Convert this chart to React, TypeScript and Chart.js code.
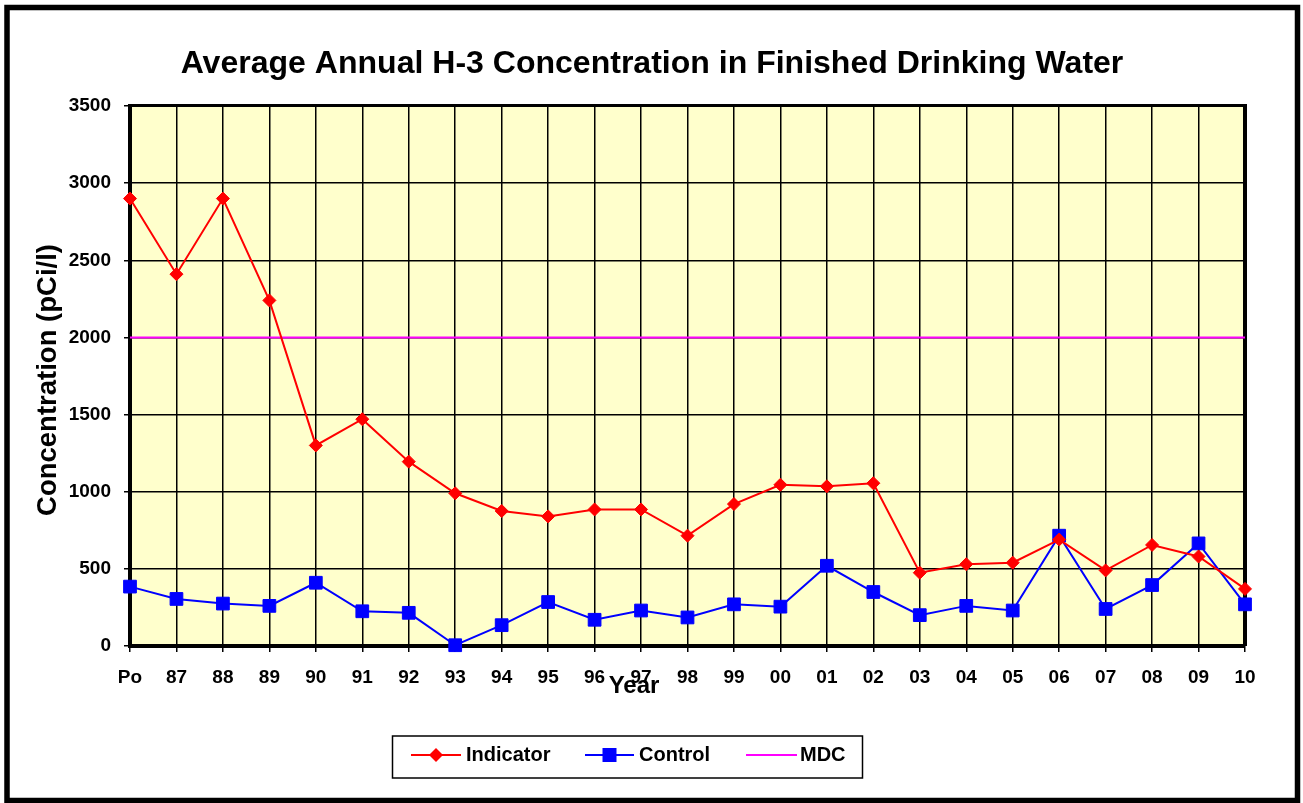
import React, { useEffect, useRef } from "react";
import { Chart, registerables } from "chart.js";

Chart.register(...registerables);

const FONT = '"Liberation Sans", Arial, sans-serif';

const TITLE = "Average Annual H-3 Concentration in Finished Drinking Water";
const Y_TITLE = "Concentration (pCi/l)";
const X_TITLE = "Year";

const years = [
  "Po", "87", "88", "89", "90", "91", "92", "93", "94", "95", "96", "97",
  "98", "99", "00", "01", "02", "03", "04", "05", "06", "07", "08", "09", "10",
];

const indicator = [
  2900, 2410, 2900, 2240, 1300, 1470, 1195, 990, 875, 840, 885, 885,
  715, 920, 1045, 1035, 1055, 475, 530, 540, 690, 490, 655, 580, 370,
];

const control = [
  385, 305, 275, 260, 410, 225, 215, 5, 135, 285, 170, 230,
  185, 270, 255, 520, 350, 200, 260, 230, 715, 240, 395, 665, 270,
];

const mdc = [
  2000, 2000, 2000, 2000, 2000, 2000, 2000, 2000, 2000, 2000, 2000, 2000,
  2000, 2000, 2000, 2000, 2000, 2000, 2000, 2000, 2000, 2000, 2000, 2000, 2000,
];

const Y_MIN = 0;
const Y_MAX = 3500;
const Y_STEP = 500;

function fitFont(ctx: CanvasRenderingContext2D, text: string, width: number, base: number) {
  ctx.font = `bold ${base}px ${FONT}`;
  const w = ctx.measureText(text).width;
  return base * (width / w);
}

const decorPlugin = {
  id: "decor",
  beforeDraw(chart: any) {
    const { ctx, chartArea } = chart;
    ctx.save();
    ctx.fillStyle = "#ffffff";
    ctx.fillRect(0, 0, chart.width, chart.height);
    ctx.fillStyle = "#FFFFCC";
    ctx.fillRect(chartArea.left, chartArea.top, chartArea.right - chartArea.left, chartArea.bottom - chartArea.top);
    ctx.restore();
  },
  beforeDatasetsDraw(chart: any) {
    const { ctx, chartArea } = chart;
    ctx.save();
    ctx.strokeStyle = "#000";
    ctx.lineWidth = 3;
    ctx.beginPath();
    ctx.moveTo(chartArea.left, chartArea.top - 0.5);
    ctx.lineTo(chartArea.right + 2, chartArea.top - 0.5);
    ctx.stroke();
    ctx.lineWidth = 4;
    ctx.beginPath();
    ctx.moveTo(chartArea.right, chartArea.top - 2);
    ctx.lineTo(chartArea.right, chartArea.bottom);
    ctx.stroke();
    ctx.restore();
  },
  afterDraw(chart: any) {
    const { ctx } = chart;
    ctx.save();
    // outer frame
    ctx.strokeStyle = "#000";
    ctx.lineWidth = 5.5;
    ctx.strokeRect(7, 7.5, 1290.5, 793);

    ctx.fillStyle = "#000";
    ctx.textAlign = "center";
    ctx.textBaseline = "alphabetic";

    // title
    const ts = fitFont(ctx, TITLE, 943, 28);
    ctx.font = `bold ${ts}px ${FONT}`;
    ctx.fillText(TITLE, 652, 73);

    // y title
    const ys = fitFont(ctx, Y_TITLE, 272, 23);
    ctx.font = `bold ${ys}px ${FONT}`;
    ctx.save();
    ctx.translate(56, 380);
    ctx.rotate(-Math.PI / 2);
    ctx.fillText(Y_TITLE, 0, 0);
    ctx.restore();

    // x title
    ctx.font = `bold 24px ${FONT}`;
    ctx.fillText(X_TITLE, 634, 693);

    // legend
    ctx.lineWidth = 1.5;
    ctx.strokeRect(392.5, 736, 470, 42);
    const ly = 755;
    const items = [
      { ds: 0, x1: 411, x2: 461, tx: 466 },
      { ds: 1, x1: 585, x2: 634, tx: 639 },
      { ds: 2, x1: 746, x2: 797, tx: 800 },
    ];
    ctx.textAlign = "left";
    ctx.textBaseline = "middle";
    ctx.font = `bold 20px ${FONT}`;
    for (const it of items) {
      const ds = chart.data.datasets[it.ds];
      ctx.strokeStyle = ds.borderColor;
      ctx.lineWidth = 2;
      ctx.beginPath();
      ctx.moveTo(it.x1, ly);
      ctx.lineTo(it.x2, ly);
      ctx.stroke();
      if (ds.pointRadius > 0) {
        ctx.fillStyle = ds.pointBackgroundColor;
        ctx.beginPath();
        const cx = (it.x1 + it.x2) / 2;
        if (ds.pointStyle === "rectRot") {
          const r = 7;
          ctx.moveTo(cx, ly - r);
          ctx.lineTo(cx + r, ly);
          ctx.lineTo(cx, ly + r);
          ctx.lineTo(cx - r, ly);
          ctx.closePath();
        } else {
          ctx.rect(cx - 7, ly - 7, 14, 14);
        }
        ctx.fill();
      }
      ctx.fillStyle = "#000";
      ctx.fillText(ds.label, it.tx, ly);
    }
    ctx.restore();
  },
};

export default function App() {
  const ref = useRef<HTMLCanvasElement | null>(null);

  useEffect(() => {
    if (!ref.current) return;
    const tickFont = { family: FONT, size: 19, weight: "bold" as const };
    const chart = new Chart(ref.current, {
      type: "line",
      data: {
        labels: years,
        datasets: [
          {
            label: "Indicator",
            data: indicator,
            borderColor: "#FF0000",
            backgroundColor: "#FF0000",
            pointBackgroundColor: "#FF0000",
            pointBorderColor: "#FF0000",
            borderWidth: 2,
            pointStyle: "rectRot",
            pointRadius: 6.5,
            pointBorderWidth: 1,
            tension: 0,
            clip: false,
          } as any,
          {
            label: "Control",
            data: control,
            borderColor: "#0000FF",
            backgroundColor: "#0000FF",
            pointBackgroundColor: "#0000FF",
            pointBorderColor: "#0000FF",
            borderWidth: 2,
            pointStyle: "rect",
            pointRadius: 9,
            pointBorderWidth: 1,
            tension: 0,
            clip: false,
          } as any,
          {
            label: "MDC",
            data: mdc,
            borderColor: "#FF00FF",
            backgroundColor: "#FF00FF",
            borderWidth: 2,
            pointRadius: 0,
            tension: 0,
          } as any,
        ],
      },
      options: {
        responsive: false,
        animation: false,
        devicePixelRatio: 1,
        layout: { padding: { left: 0, top: 106, right: 58, bottom: 0 } },
        plugins: {
          legend: { display: false },
          title: { display: false },
          tooltip: { enabled: false },
        },
        scales: {
          x: {
            type: "category",
            offset: false,
            grid: { color: "#000", lineWidth: 1.5, tickLength: 6, tickColor: "#000", tickWidth: 1.5 },
            border: { display: true, color: "#000", width: 4 },
            ticks: { autoSkip: false, maxRotation: 0, minRotation: 0, color: "#000", font: tickFont, padding: 14 },
            afterFit: (s: any) => {
              s.height = 157;
            },
          },
          y: {
            min: Y_MIN,
            max: Y_MAX,
            grid: { color: "#000", lineWidth: 1.5, tickLength: 6, tickColor: "#000", tickWidth: 1.5 },
            border: { display: true, color: "#000", width: 4 },
            ticks: {
              stepSize: Y_STEP,
              color: "#000",
              font: tickFont,
              padding: 13,
              callback: (v: any) => String(v),
            },
            afterFit: (s: any) => {
              s.width = 130;
            },
          },
        },
      },
      plugins: [decorPlugin],
    });
    return () => chart.destroy();
  }, []);

  return (
    <div style={{ position: "fixed", left: 0, top: 0, width: 1303, height: 803, background: "#fff" }}>
      <canvas ref={ref} width={1303} height={803} style={{ display: "block" }} />
    </div>
  );
}
